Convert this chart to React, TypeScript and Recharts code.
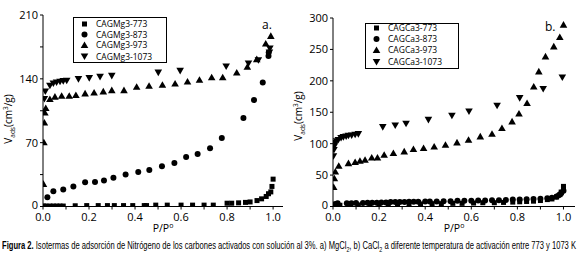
import React, { useLayoutEffect, useRef, useState } from "react";
import { Customized, Legend, Scatter, ScatterChart, XAxis, YAxis } from "recharts";

type Kind = "square" | "circle" | "up" | "down";
type Pt = [number, number];

// a) MgCl2 series, [P/P0, Vads]
const mg773: Pt[] = [
  [0.003, 0.5], [0.013, 0.5], [0.03, 0.5], [0.045, 0.5], [0.06, 0.5], [0.074, 0.5], [0.088, 0.5],
  [0.14, 0.8], [0.19, 1], [0.24, 1], [0.28, 1], [0.31, 1], [0.35, 1], [0.39, 1], [0.44, 1], [0.45, 1],
  [0.49, 1.5], [0.54, 1.5], [0.6, 1.5], [0.65, 1.5], [0.7, 1.5], [0.74, 1.5], [0.8, 3.6], [0.82, 3.6],
  [0.85, 4], [0.88, 4.5], [0.9, 5], [0.93, 6.5], [0.95, 8.4], [0.97, 11], [0.98, 14], [0.99, 16],
  [0.995, 22], [1.0, 30],
];
const mg873: Pt[] = [
  [0.019, 10.2], [0.045, 16.7], [0.088, 18.6], [0.132, 21.9], [0.183, 26.6], [0.226, 27], [0.265, 28.4],
  [0.306, 31.4], [0.359, 35], [0.414, 37.9], [0.462, 40.1], [0.517, 44.1], [0.571, 47.8], [0.622, 54.4],
  [0.672, 57.7], [0.726, 63.8], [0.777, 75.2], [0.871, 97], [0.917, 116.7], [0.955, 136], [0.98, 165],
  [0.981, 169],
];
const mg973: Pt[] = [
  [0.002, 24.8], [0.004, 70.4], [0.006, 92], [0.008, 103], [0.012, 108], [0.03, 117.8], [0.052, 120.4],
  [0.081, 121.4], [0.114, 121.4], [0.143, 122.2], [0.183, 124], [0.222, 125], [0.262, 126.2],
  [0.299, 127.6], [0.352, 127.6], [0.407, 131.3], [0.461, 132.4], [0.519, 133.5], [0.574, 134.9],
  [0.628, 137.1], [0.68, 139], [0.733, 141.6], [0.781, 141.6], [0.842, 146.9], [0.888, 153.2],
  [0.929, 161.6], [0.968, 178.7], [0.99, 187],
];
const mg1073: Pt[] = [
  [0.003, 104], [0.006, 118], [0.01, 126.2], [0.03, 132.4], [0.045, 134.9], [0.059, 136], [0.074, 136.8],
  [0.088, 137.5], [0.103, 137.9], [0.154, 139.7], [0.201, 140.8], [0.248, 142.2], [0.299, 143.3],
  [0.501, 146.9], [0.596, 148.8], [0.796, 153.5], [0.893, 156.8], [0.936, 160.5], [0.984, 168.8],
  [0.986, 173.2],
];

// b) CaCl2 series
const ca773: Pt[] = [
  [0.005, 1], [0.03, 2], [0.07, 2], [0.11, 2.5], [0.16, 3], [0.2, 3], [0.24, 3.5], [0.28, 3.5], [0.33, 4],
  [0.38, 4], [0.43, 4.5], [0.47, 4.5], [0.52, 5], [0.56, 5], [0.61, 5.5], [0.65, 6], [0.7, 6], [0.74, 6.5],
  [0.78, 7], [0.81, 7.5], [0.84, 8], [0.87, 8.5], [0.9, 9.5], [0.93, 11], [0.95, 12], [0.97, 15],
  [0.985, 19], [0.99, 23], [1.0, 28], [1.0, 32],
];
const ca873: Pt[] = [
  [0.01, 4], [0.02, 5], [0.06, 5], [0.08, 5], [0.1, 5.5], [0.13, 5.5], [0.15, 6], [0.17, 6], [0.19, 6],
  [0.21, 6.5], [0.23, 6.5], [0.25, 7], [0.27, 7], [0.29, 7], [0.31, 7], [0.33, 7.5], [0.35, 7.5],
  [0.37, 7.5], [0.4, 8], [0.42, 8], [0.45, 8], [0.48, 8.5], [0.51, 8.5], [0.54, 9], [0.57, 9], [0.6, 9],
  [0.63, 9.5], [0.66, 9.5], [0.69, 10], [0.72, 10], [0.75, 10.5], [0.78, 11], [0.81, 11], [0.84, 11.5],
  [0.87, 12], [0.9, 12.5], [0.93, 13], [0.95, 14], [0.97, 16], [0.98, 18], [0.99, 21], [1.0, 25],
];
const ca973: Pt[] = [
  [0.003, 31], [0.006, 45], [0.01, 55.7], [0.025, 64.8], [0.067, 69], [0.096, 70.7], [0.117, 72.8],
  [0.139, 74.4], [0.168, 78], [0.193, 78], [0.222, 82.3], [0.262, 85], [0.309, 87.6], [0.349, 91.4],
  [0.393, 93], [0.439, 95.5], [0.488, 98.2], [0.538, 101.9], [0.588, 106.2], [0.639, 111.5],
  [0.69, 115.8], [0.733, 124.8], [0.777, 135.4], [0.807, 148], [0.842, 164.6], [0.871, 191],
  [0.893, 215], [0.922, 238.9], [0.958, 254.8], [0.984, 269.7], [1.0, 289.3],
];
const ca1073: Pt[] = [
  [0.002, 80], [0.004, 90], [0.006, 96], [0.009, 101], [0.015, 104], [0.023, 106], [0.035, 109],
  [0.045, 110.5], [0.057, 111.5], [0.067, 112.6], [0.081, 113], [0.096, 114.2], [0.11, 115.3],
  [0.216, 126.4], [0.27, 129], [0.317, 131.7], [0.414, 138], [0.516, 144.4], [0.59, 151.3],
  [0.712, 160.4], [0.81, 172.6], [0.912, 187], [0.995, 205.4],
];

const kinds: Kind[] = ["square", "circle", "up", "down"];
const temps = ["773", "873", "973", "1073"];
const xTicks = [0, 0.1, 0.2, 0.3, 0.4, 0.5, 0.6, 0.7, 0.8, 0.9, 1.0];
const mgYTicks = [0, 35, 70, 105, 140, 175, 210];
const caYTicks = [0, 25, 50, 75, 100, 125, 150, 175, 200, 225, 250, 275, 300];

const FONT = "'Open Sans', sans-serif";
const toRows = (pts: Pt[]) => pts.map(([x, y]) => ({ x, y }));

const Marker = ({ cx, cy, kind, fill = "#000" }: { cx?: number; cy?: number; kind: Kind; fill?: string }) => {
  if (cx == null || cy == null) return null;
  if (kind === "square") return <rect x={cx - 2.5} y={cy - 2.5} width={5} height={5} fill={fill} />;
  if (kind === "circle") return <circle cx={cx} cy={cy} r={3} fill={fill} />;
  if (kind === "up")
    return <path d={`M${cx},${cy - 3.6}L${cx + 3.8},${cy + 3}L${cx - 3.8},${cy + 3}Z`} fill={fill} />;
  return <path d={`M${cx},${cy + 3.6}L${cx + 3.8},${cy - 3}L${cx - 3.8},${cy - 3}Z`} fill={fill} />;
};

const LegendBox = ({ prefix, rows }: { prefix: string; rows: number[] }) => (
  <svg width={94} height={46} style={{ display: "block" }}>
    <rect x={0.5} y={0.5} width={93} height={45} fill="#fff" stroke="#000" strokeWidth={1} />
    {temps.map((t, i) => (
      <g key={t}>
        <Marker cx={11.5} cy={rows[i]} kind={kinds[i]} />
        <text x={23} y={rows[i] + 3} fontSize={8.5} fontFamily={FONT} fill="#000">
          {`${prefix}-${t}`}
        </text>
      </g>
    ))}
  </svg>
);

const XTitle = (props: any) => {
  const vb = props.viewBox || {};
  return (
    <text x={vb.x + vb.width / 2} y={vb.y + 25} textAnchor="middle" fontSize={10.5} fontFamily={FONT} fill="#000">
      P/P<tspan dy={-4} fontSize={7}>o</tspan>
    </text>
  );
};

const YTitle = ({ cx, cy }: { cx: number; cy: number }) => (
  <text transform={`translate(${cx},${cy}) rotate(-90)`} textAnchor="middle" fontSize={10} fontFamily={FONT} fill="#000">
    V<tspan dy={3} fontSize={6.5}>ads</tspan>
    <tspan dy={-3}>(cm</tspan>
    <tspan dy={-4} fontSize={6.5}>3</tspan>
    <tspan dy={4}>/g)</tspan>
  </text>
);

// y tick label; the zero label is nudged up so it clears the x labels
const YTick = ({ x, y, payload, major }: any) => {
  const v = payload?.value as number;
  if (v % major !== 0) return null;
  return (
    <text x={x} y={y + (v === 0 ? -1.5 : 0)} dy={4} textAnchor="end" fontSize={11} fontFamily={FONT} fill="#000">
      {String(v)}
    </text>
  );
};

type PanelProps = {
  left: number;
  width: number;
  top: number;
  right: number;
  yMax: number;
  yTicks: number[];
  yMajor: number;
  xMax: number;
  series: Pt[][];
  prefix: string;
  legendPos: { left: number; top: number };
  legendRows: number[];
  tag: string;
  tagPos: { x: number; y: number };
  yTitle: { cx: number; cy: number };
};

const HEIGHT = 237;
const AXIS_Y = 206.5;

const Panel = (p: PanelProps) => {
  const tickStyle = { fontSize: 11, fontFamily: FONT, fill: "#000" };
  return (
    <div style={{ position: "absolute", left: p.left, top: 0 }}>
      <ScatterChart
        width={p.width}
        height={HEIGHT}
        margin={{ top: p.top, right: p.right, bottom: HEIGHT - AXIS_Y - 20, left: 0 }}
      >
        <XAxis
          xAxisId="b"
          type="number"
          dataKey="x"
          domain={[0, p.xMax]}
          ticks={xTicks}
          allowDataOverflow
          height={20}
          tickSize={3}
          tickMargin={4}
          stroke="#000"
          tick={tickStyle}
          tickFormatter={(v: number) => (Math.round(v * 10) % 2 === 0 ? v.toFixed(1) : "")}
          label={<XTitle />}
        />
        <XAxis xAxisId="t" type="number" orientation="top" domain={[0, p.xMax]} ticks={xTicks} height={0} mirror tickSize={3} tick={false} stroke="#000" />
        <YAxis
          yAxisId="l"
          type="number"
          dataKey="y"
          domain={[0, p.yMax]}
          ticks={p.yTicks}
          allowDataOverflow
          width={43}
          tickSize={3}
          tickMargin={2}
          stroke="#000"
          tick={<YTick major={p.yMajor} />}
        />
        <YAxis yAxisId="r" type="number" orientation="right" domain={[0, p.yMax]} ticks={p.yTicks} width={0} mirror tickSize={3} tick={false} stroke="#000" />
        {p.series.map((s, i) => (
          <Scatter
            key={temps[i]}
            name={`${p.prefix}-${temps[i]}`}
            data={toRows(s)}
            xAxisId="b"
            yAxisId="l"
            isAnimationActive={false}
            shape={(props: any) => <Marker cx={props.cx} cy={props.cy} kind={kinds[i]} />}
          />
        ))}
        <Legend
          layout="horizontal"
          verticalAlign="middle"
          align="center"
          wrapperStyle={{ left: p.legendPos.left, top: p.legendPos.top, width: 94, height: 46 }}
          content={() => <LegendBox prefix={p.prefix} rows={p.legendRows} />}
        />
        <Customized
          component={() => (
            <g>
              <text x={p.tagPos.x} y={p.tagPos.y} fontSize={12} fontFamily={FONT} fill="#000">
                {p.tag}
              </text>
              <YTitle cx={p.yTitle.cx} cy={p.yTitle.cy} />
            </g>
          )}
        />
      </ScatterChart>
    </div>
  );
};

const Caption = () => {
  const ref = useRef<HTMLDivElement>(null);
  const [scale, setScale] = useState(1);
  useLayoutEffect(() => {
    if (ref.current) setScale(574 / ref.current.scrollWidth);
  }, []);
  return (
    <div
      ref={ref}
      style={{
        position: "absolute",
        left: 2,
        top: 240,
        whiteSpace: "nowrap",
        fontFamily: "'Liberation Sans Narrow', 'Liberation Sans', sans-serif",
        fontSize: 10,
        lineHeight: "12px",
        color: "#000",
        transformOrigin: "0 0",
        transform: `scaleX(${scale})`,
      }}
    >
      <b>Figura 2.</b> Isotermas de adsorción de Nitrógeno de los carbones activados con solución al 3%. a) MgCl
      <sub style={{ fontSize: 7, lineHeight: 0 }}>2</sub>, b) CaCl
      <sub style={{ fontSize: 7, lineHeight: 0 }}>2</sub> a diferente temperatura de activación entre 773 y 1073 K
    </div>
  );
};

export default function App() {
  return (
    <div style={{ position: "fixed", left: 0, top: 0, width: 579, height: 261, background: "#fff", overflow: "hidden" }}>
      <Panel
        left={0}
        width={290}
        top={15}
        right={7}
        yMax={210}
        yTicks={mgYTicks}
        yMajor={70}
        xMax={1.043}
        series={[mg773, mg873, mg973, mg1073]}
        prefix="CAGMg3"
        legendPos={{ left: 73, top: 17 }}
        legendRows={[7, 17.5, 28, 39.5]}
        tag="a."
        tagPos={{ x: 262, y: 29 }}
        yTitle={{ cx: 12, cy: 119 }}
      />
      <Panel
        left={290}
        width={289}
        top={18}
        right={4}
        yMax={300}
        yTicks={caYTicks}
        yMajor={50}
        xMax={1.05}
        series={[ca773, ca873, ca973, ca1073]}
        prefix="CAGCa3"
        legendPos={{ left: 75, top: 23 }}
        legendRows={[5, 16, 27, 39]}
        tag="b."
        tagPos={{ x: 255, y: 31 }}
        yTitle={{ cx: 12, cy: 116 }}
      />
      <Caption />
    </div>
  );
}
